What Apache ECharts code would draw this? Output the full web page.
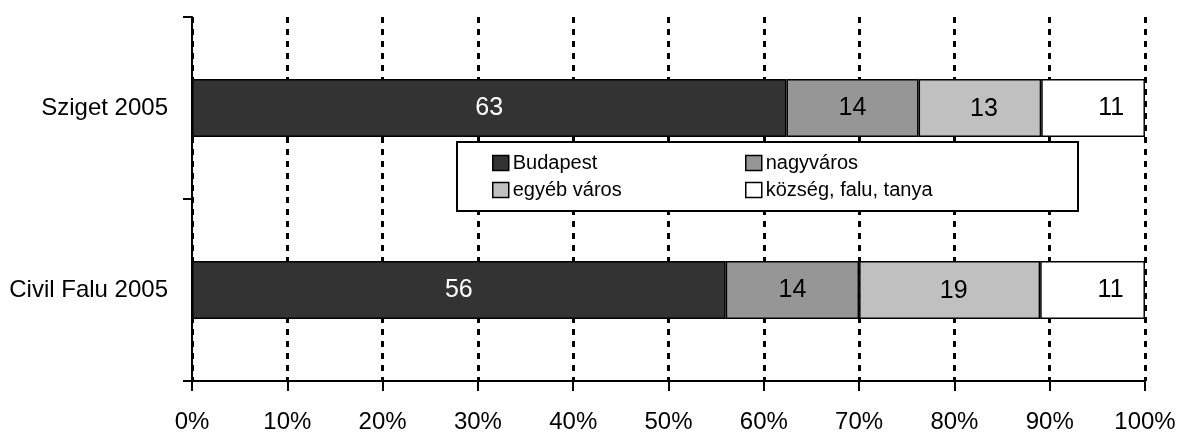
<!DOCTYPE html>
<html>
<head>
<meta charset="utf-8">
<script src="https://cdn.jsdelivr.net/npm/echarts@6/dist/echarts.min.js"></script>
<style>
html,body{margin:0;padding:0;background:#fff;}
#chart{width:1179px;height:437px;}
</style>
</head>
<body>
<div id="chart"></div>
<script>
var categories = ['Sziget 2005', 'Civil Falu 2005'];
var seriesNames = ['Budapest', 'nagyváros', 'egyéb város', 'község, falu, tanya'];
var budapest = [63, 56];
var nagyvaros = [14, 14];
var egyebVaros = [13, 19];
var kozseg = [11, 11];
var xTicks = [0, 10, 20, 30, 40, 50, 60, 70, 80, 90, 100];

var FONT = '"Liberation Sans Narrow", "Arial Narrow", "Liberation Sans", Arial, sans-serif';
var raw = [budapest, nagyvaros, egyebVaros, kozseg];
var totals = categories.map(function (c, i) {
  return raw.reduce(function (s, arr) { return s + arr[i]; }, 0);
});
var colors = ['#333333', '#969696', '#c0c0c0', '#ffffff'];
var labelColors = ['#ffffff', '#000000', '#000000', '#000000'];
var labelOffsets = [[0, 0], [0, 0], [4, 1], [18, 0]];

var series = raw.map(function (arr, k) {
  return {
    name: seriesNames[k],
    type: 'bar',
    stack: 'total',
    barWidth: 58,
    data: arr.map(function (v, i) {
      return { value: v / totals[i] * 100, raw: v };
    }),
    itemStyle: { color: colors[k], borderColor: '#000', borderWidth: 1.5 },
    label: {
      show: true,
      position: 'inside',
      offset: labelOffsets[k],
      color: labelColors[k],
      fontFamily: FONT,
      fontSize: 25,
      formatter: function (p) { return p.data.raw; }
    },
    emphasis: { disabled: true }
  };
});

var chart = echarts.init(document.getElementById('chart'), null, { renderer: 'canvas' });
chart.setOption({
  animation: false,
  backgroundColor: '#fff',
  grid: { left: 192, right: 34, top: 17, bottom: 56, containLabel: false, outerBoundsMode: 'none' },
  xAxis: {
    type: 'value',
    min: xTicks[0],
    max: xTicks[xTicks.length - 1],
    interval: 10,
    axisLine: { show: true, lineStyle: { color: '#000', width: 2 } },
    axisTick: { show: true, length: 10, lineStyle: { color: '#000', width: 2 } },
    axisLabel: { formatter: '{value}%', color: '#000', fontFamily: FONT, fontSize: 24, margin: 29 },
    splitLine: { show: true, lineStyle: { color: '#000', width: 3, type: [6, 6] } }
  },
  yAxis: {
    type: 'category',
    inverse: true,
    data: categories,
    axisLine: { show: true, lineStyle: { color: '#000', width: 2 } },
    axisTick: { show: true, length: 9, lineStyle: { color: '#000', width: 2 } },
    axisLabel: { color: '#000', fontFamily: FONT, fontSize: 24, margin: 24 },
    splitLine: { show: false }
  },
  graphic: [{
    type: 'rect',
    z: 3,
    shape: { x: 457, y: 142, width: 621, height: 69 },
    style: { fill: '#fff', stroke: '#000', lineWidth: 2 }
  }],
  legend: [{
    data: [seriesNames[0], seriesNames[2]],
    orient: 'vertical',
    left: 492,
    top: 150,
    itemWidth: 16,
    itemHeight: 15,
    itemGap: 1,
    padding: 0,
    z: 5,
    selectedMode: false,
    icon: 'rect',
    itemStyle: { borderColor: '#000', borderWidth: 1.5 },
    textStyle: { color: '#000', fontFamily: FONT, fontSize: 20, lineHeight: 26, padding: [0, 0, 0, -1] }
  }, {
    data: [seriesNames[1], seriesNames[3]],
    orient: 'vertical',
    left: 745,
    top: 150,
    itemWidth: 16,
    itemHeight: 15,
    itemGap: 1,
    padding: 0,
    z: 5,
    selectedMode: false,
    icon: 'rect',
    itemStyle: { borderColor: '#000', borderWidth: 1.5 },
    textStyle: { color: '#000', fontFamily: FONT, fontSize: 20, lineHeight: 26, padding: [0, 0, 0, -1] }
  }],
  series: series
});
</script>
</body>
</html>
